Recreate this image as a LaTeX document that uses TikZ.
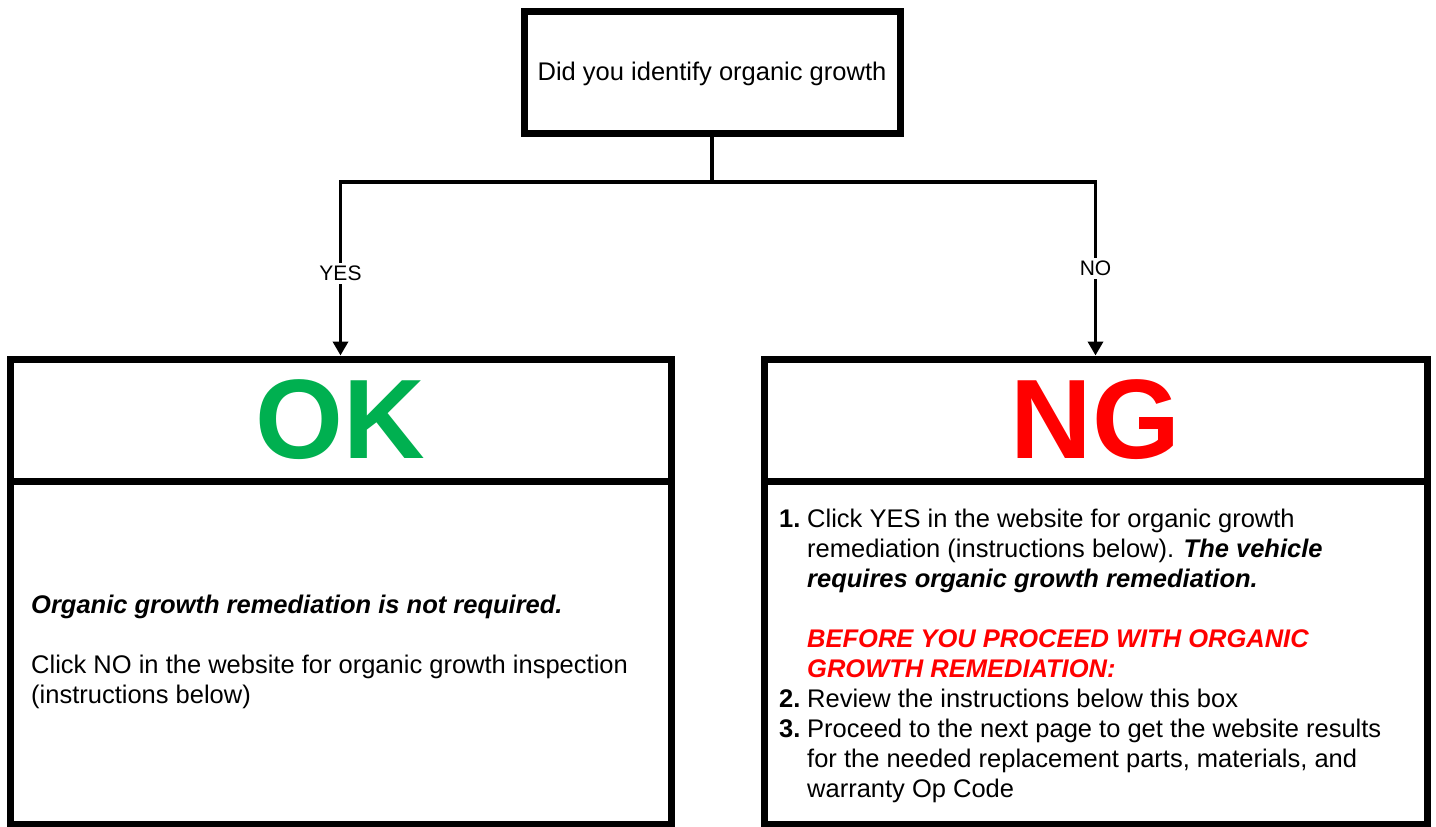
\documentclass[tikz,border=0pt]{standalone}
\usepackage{fontspec}
\setmainfont{Liberation Sans}
\usetikzlibrary{arrows.meta}
\definecolor{okgreen}{HTML}{00B050}
\definecolor{ngred}{HTML}{FF0000}
\tikzset{
  box/.style={draw, line width=7pt, rectangle, inner sep=0pt, fill=white},
  conn/.style={line width=3.5pt},
  arr/.style={conn, -{Triangle[width=15pt,length=14pt]}},
  lbl/.style={fill=white, font=\fontsize{21}{21}\selectfont, inner sep=3pt},
  txt/.style={anchor=base west, font=\fontsize{25.5}{30}\selectfont, inner sep=0pt},
  bigtxt/.style={font=\fontsize{113}{113}\selectfont\bfseries},
}
\begin{document}
\begin{tikzpicture}[x=1pt,y=-1pt]
\useasboundingbox[fill=white] (0,0) rectangle (1436,827);
% question box
\node[box, minimum width=376pt, minimum height=122pt] (q) at (712,72) {};
\node[txt, anchor=base] (qt) at (712,80) {Did you identify organic growth};
% result boxes
\node[box, minimum width=661pt, minimum height=343pt] (okbody) at (340.5,652.5) {};
\node[box, minimum width=661pt, minimum height=122pt, bigtxt, text=okgreen] (okhead) at (340.5,420) {OK};
\node[box, minimum width=663pt, minimum height=343pt] (ngbody) at (1095.5,652.5) {};
\node[box, minimum width=663pt, minimum height=122pt, bigtxt, text=ngred] (nghead) at (1095.5,420) {NG};
% connectors
\coordinate (j) at (712,182);
\draw[conn] (q.south) -- (j);
\draw[arr] (j) -| node[lbl, pos=0.764] (yes) {YES} (okhead.north);
\draw[arr] (j) -| node[lbl, pos=0.75] (no) {NO} (nghead.north);
% left body text
\node[txt] (ok1) at (31,613) {\bfseries\itshape Organic growth remediation is not required.};
\node[txt] (ok2) at (31,673) {Click NO in the website for organic growth inspection};
\node[txt] (ok3) at (31,703) {(instructions below)};
% right body text
\node[txt] (n1n) at (779,527) {\bfseries 1.};
\node[txt] (n1) at (807,527) {Click YES in the website for organic growth};
\node[txt] (n2) at (807,557) {remediation (instructions below). {\bfseries\itshape The vehicle}};
\node[txt] (n3) at (807,587) {\bfseries\itshape requires organic growth remediation.};
\node[txt, text=ngred] (n4) at (807,647) {\bfseries\itshape BEFORE YOU PROCEED WITH ORGANIC};
\node[txt, text=ngred] (n5) at (807,677) {\bfseries\itshape GROWTH REMEDIATION:};
\node[txt] (n6n) at (779,707) {\bfseries 2.};
\node[txt] (n6) at (807,707) {Review the instructions below this box};
\node[txt] (n7n) at (779,737) {\bfseries 3.};
\node[txt] (n7) at (807,737) {Proceed to the next page to get the website results};
\node[txt] (n8) at (807,767) {for the needed replacement parts, materials, and};
\node[txt] (n9) at (807,797) {warranty Op Code};
\end{tikzpicture}
\end{document}
